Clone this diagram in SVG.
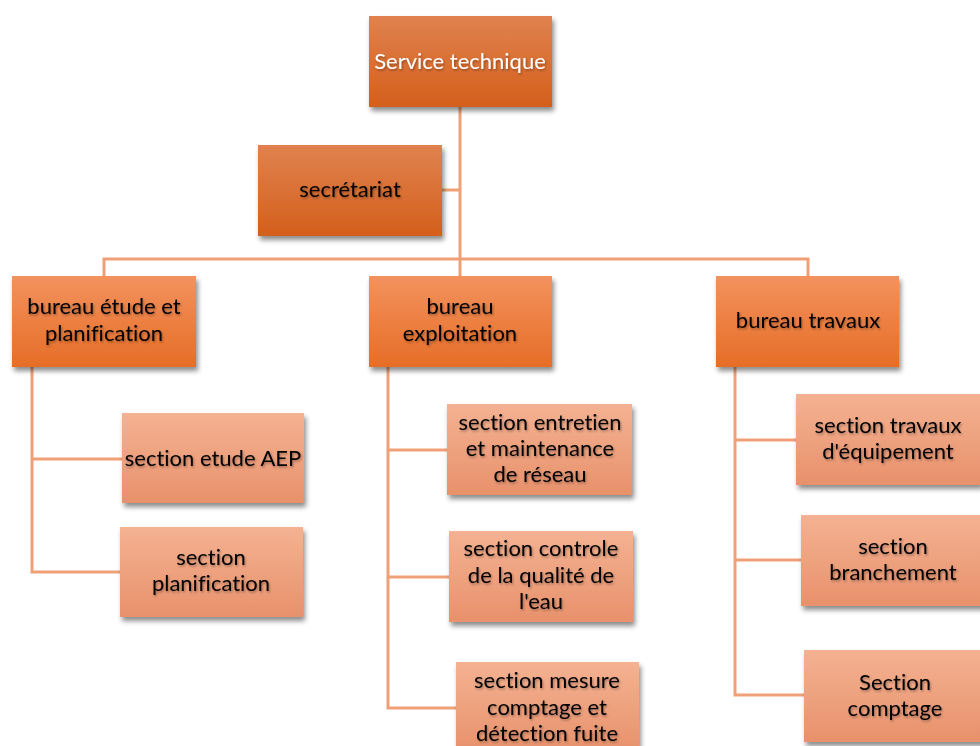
<svg xmlns="http://www.w3.org/2000/svg" width="980" height="746" viewBox="0 0 980 746">
  <defs>
    <linearGradient id="gDark" x1="0" y1="0" x2="0" y2="1">
      <stop offset="0" stop-color="#e0824f"/>
      <stop offset="1" stop-color="#d45f1b"/>
    </linearGradient>
    <linearGradient id="gMid" x1="0" y1="0" x2="0" y2="1">
      <stop offset="0" stop-color="#f3925e"/>
      <stop offset="1" stop-color="#e66d26"/>
    </linearGradient>
    <linearGradient id="gLight" x1="0" y1="0" x2="0" y2="1">
      <stop offset="0" stop-color="#f4b292"/>
      <stop offset="1" stop-color="#e8916b"/>
    </linearGradient>
    <filter id="shadow" x="-10%" y="-10%" width="125%" height="130%">
      <feDropShadow dx="2" dy="4" stdDeviation="2.5" flood-color="#000" flood-opacity="0.45"/>
    </filter>
    <filter id="tshadow" x="-5%" y="-20%" width="110%" height="140%">
      <feDropShadow dx="1" dy="1.5" stdDeviation="1" flood-color="#000" flood-opacity="0.35"/>
    </filter>
  </defs>
  <style>
    .dark { fill: url(#gDark); filter: url(#shadow); }
    .mid { fill: url(#gMid); filter: url(#shadow); }
    .light { fill: url(#gLight); filter: url(#shadow); }
    text { font-family: Lato, "Open Sans", sans-serif; font-size: 22px; text-anchor: middle; fill: #000; filter: url(#tshadow); font-variant-ligatures: none; }
    text.w { fill: #fff; }
    .links path { fill: none; stroke: #f0a077; stroke-width: 3; }
  </style>
  <rect width="980" height="746" fill="#fff"/>

  <!-- connectors -->
  <g class="links">
    <path d="M460 107 V276"/>
    <path d="M442 190 H460"/>
    <path d="M104 276 V259 H808 V276"/>
    <path d="M32 367 V572 H120"/>
    <path d="M32 459 H122"/>
    <path d="M388 367 V708 H456"/>
    <path d="M388 450 H447"/>
    <path d="M388 577 H449"/>
    <path d="M735 367 V695 H804"/>
    <path d="M735 440 H796"/>
    <path d="M735 560 H801"/>
  </g>

  <!-- nodes -->
  <g id="service-technique">
    <rect class="dark" x="369" y="16" width="183" height="91"/>
    <text class="w" x="460" y="69">Service technique</text>
  </g>
  <g id="secretariat">
    <rect class="dark" x="258" y="145" width="184" height="91"/>
    <text x="350" y="197">secrétariat</text>
  </g>
  <g id="bureau-etude">
    <rect class="mid" x="12" y="276" width="184" height="91"/>
    <text x="104" y="314">bureau étude et</text>
    <text x="104" y="341">planification</text>
  </g>
  <g id="bureau-exploitation">
    <rect class="mid" x="369" y="276" width="183" height="91"/>
    <text x="460" y="314">bureau</text>
    <text x="460" y="341">exploitation</text>
  </g>
  <g id="bureau-travaux">
    <rect class="mid" x="716" y="276" width="183" height="91"/>
    <text x="808" y="328">bureau travaux</text>
  </g>

  <g id="section-etude-aep">
    <rect class="light" x="122" y="413" width="182" height="90"/>
    <text x="213" y="466">section etude AEP</text>
  </g>
  <g id="section-planification">
    <rect class="light" x="120" y="527" width="183" height="90"/>
    <text x="211" y="565">section</text>
    <text x="211" y="591">planification</text>
  </g>

  <g id="section-entretien">
    <rect class="light" x="447" y="404" width="185" height="91"/>
    <text x="540" y="430">section entretien</text>
    <text x="540" y="456">et maintenance</text>
    <text x="540" y="482">de réseau</text>
  </g>
  <g id="section-controle">
    <rect class="light" x="449" y="531" width="184" height="91"/>
    <text x="541" y="556">section controle</text>
    <text x="541" y="583">de la qualité de</text>
    <text x="541" y="609">l'eau</text>
  </g>
  <g id="section-mesure">
    <rect class="light" x="456" y="662" width="183" height="91"/>
    <text x="547" y="688">section mesure</text>
    <text x="547" y="715">comptage et</text>
    <text x="547" y="741">détection fuite</text>
  </g>

  <g id="section-travaux">
    <rect class="light" x="796" y="394" width="185" height="91"/>
    <text x="888" y="433">section travaux</text>
    <text x="888" y="459">d'équipement</text>
  </g>
  <g id="section-branchement">
    <rect class="light" x="801" y="515" width="185" height="91"/>
    <text x="893" y="554">section</text>
    <text x="893" y="580">branchement</text>
  </g>
  <g id="section-comptage">
    <rect class="light" x="804" y="650" width="185" height="92"/>
    <text x="895" y="690">Section</text>
    <text x="895" y="716">comptage</text>
  </g>
</svg>
